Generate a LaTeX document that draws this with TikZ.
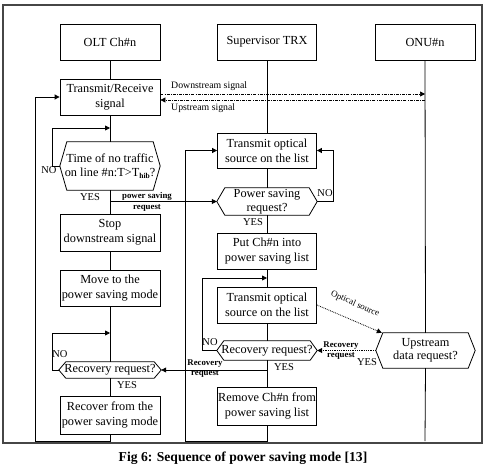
\documentclass[tikz,border=0pt]{standalone}
\usepackage{fontspec}
\setmainfont{Liberation Serif}
\usetikzlibrary{arrows.meta}
\tikzset{
  ln/.style={line width=0.8pt},
  box/.style={draw, line width=0.8pt, minimum width=100pt, inner sep=1pt, align=center, font=\fontsize{12.3}{15}\selectfont},
  hexa/.style={minimum width=100pt, inner sep=0pt, align=center, font=\fontsize{12.3}{13.5}\selectfont},
  arr/.style={-{Triangle[length=5pt,width=5pt]}},
  sig/.style={line width=0.7pt, dash pattern=on 3pt off 1.2pt on 0.8pt off 1.2pt},
  dots/.style={line width=0.8pt, densely dotted},
  lbl/.style={font=\fontsize{9.8}{11}\selectfont, inner sep=0pt},
  blbl/.style={font=\bfseries\fontsize{8.8}{10}\selectfont, inner sep=0pt, align=center},
  yn/.style={font=\fontsize{10.5}{11}\selectfont, inner sep=0pt}
}
\newcommand\hexdraw[2]{\draw[ln] ([xshift=#2]#1.north west) -- ([xshift=-#2]#1.north east) -- (#1.east) -- ([xshift=-#2]#1.south east) -- ([xshift=#2]#1.south west) -- (#1.west) -- cycle;}
\begin{document}
\begin{tikzpicture}[x=1pt,y=-1pt]
\useasboundingbox (0,0) rectangle (486,470);
\draw[line width=2pt, gray!55!black] (3,5) rectangle (482,443);
% headers
\node[box, minimum height=36pt] (hOLT) at (110,42) {OLT Ch\#n};
\node[box, minimum height=36pt, minimum width=99pt] (hSUP) at (267,42) {Supervisor TRX};
\node[box, minimum height=36pt] (hONU) at (425,42) {ONU\#n};
% OLT column
\node[box, minimum height=36pt] (tr) at (110,97) {Transmit/Receive\\signal};
\node[hexa, minimum height=48pt] (hex1) at (110,166) {Time of no traffic\\on line \#n:T>T\raisebox{-2pt}{\bfseries\fontsize{7.5}{8}\selectfont hib}?};
\hexdraw{hex1}{7pt}
\node[box, minimum height=37pt] (stop) at (110,232.5) {Stop\\downstream signal};
\node[box, minimum height=36pt] (move) at (110,288) {Move to the\\power saving mode};
\node[hexa, minimum height=16pt, minimum width=102pt] (hex2) at (110,370) {Recovery request?};
\hexdraw{hex2}{7pt}
\node[box, minimum height=38pt] (recover) at (110,415) {Recover from the\\power saving mode};
% Supervisor column
\node[box, minimum height=35pt, minimum width=99pt] (tx1) at (267,150.5) {Transmit optical\\source on the list};
\node[hexa, minimum height=27pt] (hexPS) at (267,201.5) {Power saving\\request?};
\hexdraw{hexPS}{8pt}
\node[box, minimum height=36pt, minimum width=99pt] (put) at (267,251) {Put Ch\#n into\\power saving list};
\node[box, minimum height=36pt, minimum width=99pt] (tx2) at (267,305) {Transmit optical\\source on the list};
\node[hexa, minimum height=19pt] (hexR) at (267,350.5) {Recovery request?};
\hexdraw{hexR}{7pt}
\node[box, minimum height=38pt, minimum width=99pt] (remove) at (267,406) {Remove Ch\#n from\\power saving list};
% ONU column
\node[hexa, minimum height=35pt, minimum width=99pt] (hexU) at (425.5,350.5) {Upstream\\data request?};
\hexdraw{hexU}{7pt}
% coordinates
\coordinate (c1) at (110,128);
\coordinate (b1) at (110,201.5);
\coordinate (c2) at (110,333);
\coordinate (c3) at (267,278);
\coordinate (c4) at (267,370);
\coordinate (d1) at (425,94);
\coordinate (u1) at (425,100);
\coordinate (onuend) at (425,441);
% OLT connectors
\draw[ln] (hOLT.south) -- (tr.north);
\draw[ln] (tr.south) -- (hex1.north);
\draw[ln] (hex1.south) -- (stop.north);
\draw[ln] (stop.south) -- (move.north);
\draw[ln] (move.south) -- (hex2.north);
\draw[ln] (hex2.south) -- (recover.north);
\draw[ln,arr] (hex1.west) -- (52,166) |- (c1);
\draw[ln,arr] (hex2.west) -- (52,370) |- (c2);
\draw[ln,arr] (recover.south) -- (110,441) -- (35,441) |- (tr.west);
\draw[ln,arr] (b1) -- (hexPS.west);
% Supervisor connectors
\draw[ln] (hSUP.south) -- (tx1.north);
\draw[ln] (tx1.south) -- (hexPS.north);
\draw[ln] (hexPS.south) -- (put.north);
\draw[ln] (put.south) -- (tx2.north);
\draw[ln] (tx2.south) -- (hexR.north);
\draw[ln] (hexR.south) -- (remove.north);
\draw[ln,arr] (hexPS.east) -- (333,201.5) |- (tx1.east);
\draw[ln,arr] (hexR.west) -- (202,350.5) |- (c3);
\draw[ln,arr] (c4) -- (hex2.east);
\draw[ln,arr] (remove.south) -- (267,441) -- (185,441) |- (tx1.west);
% ONU connectors
\draw[ln] (hONU.south) -- (hexU.north);
\draw[ln] (hexU.south) -- (onuend);
\draw[sig,arr] ([yshift=3pt]tr.east) -- (d1);
\draw[sig,arr] (u1) -- ([yshift=-3pt]tr.east);
\draw[dots,arr] (tx2.east) -- ([xshift=6pt]hexU.north west);
\draw[dots,arr] (hexU.west) -- (hexR.east);
% labels
\node[lbl, anchor=west] (ldown) at (171,86) {Downstream signal};
\node[lbl, anchor=west] (lup) at (171,108) {Upstream signal};
\node[yn] (no1) at (49,170) {NO};
\node[yn] (yes1) at (90,197) {YES};
\node[blbl] (lps) at (147,201.5) {power saving\\[1pt]request};
\node[yn] (no2) at (60,354) {NO};
\node[yn] (yes2) at (127,385) {YES};
\node[yn] (no3) at (325,193) {NO};
\node[yn] (yes3) at (253,222) {YES};
\node[yn] (no4) at (210,342) {NO};
\node[yn] (yes4) at (284,367) {YES};
\node[blbl] (lrr1) at (205,369) {Recovery\\request};
\node[blbl] (lrr2) at (341,351) {Recovery\\request};
\node[yn] (yes5) at (367,362) {YES};
\node[font=\fontsize{9}{10}\selectfont, inner sep=0pt, rotate=-24] (lopt) at (355,304) {Optical source};
% caption
\node[font=\bfseries\fontsize{13.6}{15}\selectfont] (cap) at (243,458) {Fig 6: Sequence of power saving mode [13]};
\end{tikzpicture}
\end{document}
